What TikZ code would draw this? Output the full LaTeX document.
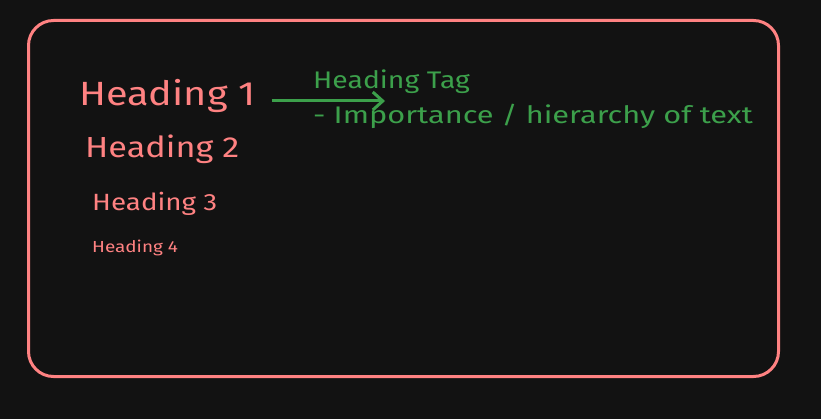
\documentclass[tikz,border=0pt]{standalone}
\usepackage{fontspec}
\setmainfont{Fira Sans}
\newfontfamily\widefont{Fira Sans}[FakeStretch=1.18]
\newfontfamily\widerfont{Fira Sans}[FakeStretch=1.28]
\usetikzlibrary{arrows.meta, positioning}
\definecolor{darkbg}{RGB}{18,18,18}
\definecolor{headred}{RGB}{255,130,130}
\definecolor{taggreen}{RGB}{60,160,75}
\newcommand{\fsz}[1]{\fontsize{#1}{#1}\selectfont}

\begin{document}
\begin{tikzpicture}[
    x=1pt, y=-1pt,
    head/.style={text=headred, anchor=base west, inner sep=0pt},
    tag/.style={text=taggreen, anchor=base west, inner sep=0pt},
    arr/.style={-{Straight Barb[length=10pt, width=18pt]}, line width=3pt, taggreen},
]
    \fill[darkbg] (0,0) rectangle (821,419);
    \useasboundingbox (0,0) rectangle (821,419);
    \draw[headred, line width=3pt, rounded corners=25pt] (28.5,20.5) rectangle (778.5,376.5);

    \node[head, font=\widefont\fsz{33.6}] (h1) at (79,106) {Heading 1};
    \node[head, font=\widefont\fsz{29}] (h2) at (85,158) {Heading 2};
    \node[head, font=\widefont\fsz{23.5}] (h3) at (92,211) {Heading 3};
    \node[head, font=\widefont\fsz{16}] (h4) at (92,253) {Heading 4};

    \node[tag, font=\widefont\fsz{24}] (tagname) at (313,89) {Heading Tag};
    \node[tag, font=\widerfont\fsz{24}] (tagdesc) at (313,124) {- Importance / hierarchy of text};

    \coordinate (tip) at (385,101);
    \draw[arr] (h1.east |- tip) ++(16,0) -- (tip);
\end{tikzpicture}
\end{document}
